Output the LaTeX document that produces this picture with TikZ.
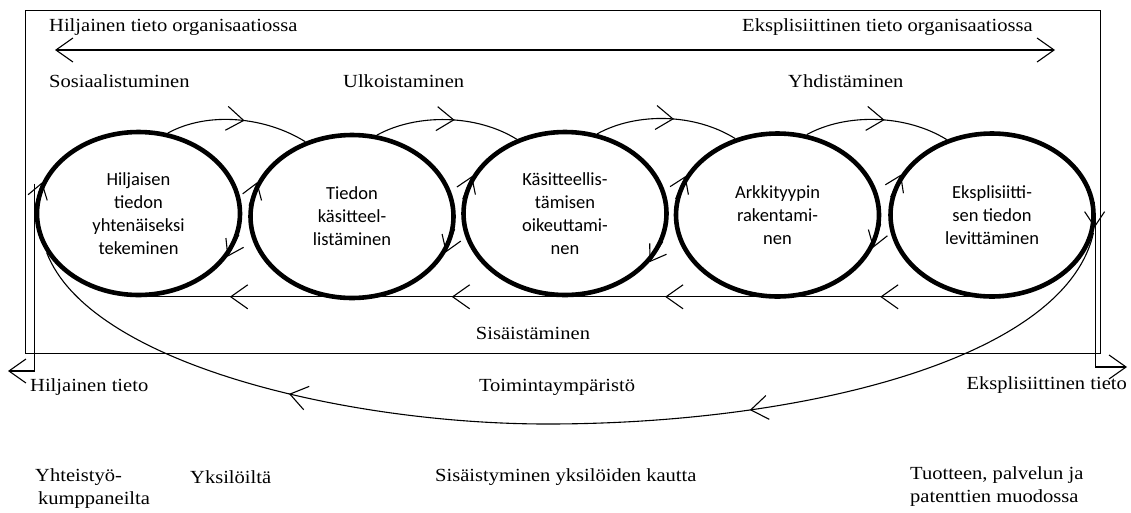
\documentclass[tikz,border=0pt]{standalone}
\usepackage{fontspec}
\setmainfont{Liberation Serif}[FakeStretch=1.11]
\newfontfamily\procfamily{Carlito}
\usetikzlibrary{shapes.geometric,arrows.meta,decorations.markings,calc}
\begin{document}
\begin{tikzpicture}[x=1pt,y=-1pt,
  >={Straight Barb[length=17pt,width=24pt]},
  conn/.style={line width=1.1pt},
  ring/.style={line width=1.1pt,-{Straight Barb[length=15pt,width=20pt]}},
  proc/.style={ellipse, draw, line width=4.6pt, minimum width=203pt, minimum height=163pt,
    inner sep=0pt, align=center, font=\procfamily\fontsize{18.5}{23}\selectfont},
  lbl/.style={inner sep=0pt, font=\fontsize{18.5}{23}\selectfont},
  midarrow/.style={postaction={decorate}, decoration={markings,
    mark=at position #1 with {\arrow{Straight Barb[length=17pt,width=24pt]}}}},
  fourarrows/.style={postaction={decorate}, decoration={markings,
    mark=at position 0.131 with {\arrow{Straight Barb[length=17pt,width=24pt]}},
    mark=at position 0.383 with {\arrow{Straight Barb[length=17pt,width=24pt]}},
    mark=at position 0.633 with {\arrow{Straight Barb[length=17pt,width=24pt]}},
    mark=at position 0.893 with {\arrow{Straight Barb[length=17pt,width=24pt]}}}},
  twoarrows/.style={postaction={decorate}, decoration={markings,
    mark=at position 0.35 with {\arrow{Straight Barb[length=17pt,width=24pt]}},
    mark=at position 0.75 with {\arrow{Straight Barb[length=17pt,width=24pt]}}}},
]
\useasboundingbox (0,0) rectangle (1131,512);

% frame
\node[draw, conn, minimum width=1075pt, minimum height=343pt, inner sep=0pt,
  anchor=north west] (frame) at (25,10) {};

% top labels
\node[lbl, anchor=west] (t1) at (49,27) {Hiljainen tieto organisaatiossa};
\node[lbl, anchor=west] (t2) at (742,27) {Eksplisiittinen tieto organisaatiossa};
\coordinate (tl) at (55,50);
\coordinate (tr) at (1055,50);
\draw[conn,<->] (tl) -- (tr);

\node[lbl, anchor=west] (s1) at (49,81) {Sosiaalistuminen};
\node[lbl, anchor=west] (s2) at (343,81) {Ulkoistaminen};
\node[lbl, anchor=west] (s3) at (788,81) {Yhdistäminen};

% ellipses
\node[proc] (e1) at (138.5,213.5) {Hiljaisen\\tiedon\\yhtenäiseksi\\tekeminen};
\node[proc] (e2) at (352,216.5) {Tiedon\\käsitteel-\\listäminen};
\node[proc] (e3) at (565,213.5) {Käsitteellis-\\tämisen\\oikeuttami-\\nen};
\node[proc] (e4) at (777.5,215) {Arkkityypin\\rakentami-\\nen};
\node[proc] (e5) at (992,215) {Eksplisiitti-\\sen tiedon\\levittäminen};

% arrows along ellipses (clockwise)
\draw[ring] (e1.176) -- (e1.162);
\draw[ring] (e1.348) -- (e1.334);
\draw[ring] (e2.174) -- (e2.160);
\draw[ring] (e2.353) -- (e2.339);
\draw[ring] (e3.172) -- (e3.158);
\draw[ring] (e3.344) -- (e3.330);
\draw[ring] (e4.171) -- (e4.157);
\draw[ring] (e4.355) -- (e4.341);
\draw[ring] (e5.170) -- (e5.156);
\draw[ring] (e5.7) -- (e5.353);

% top arcs between ellipses
\draw[conn, midarrow=0.55] (e1.70) .. controls +(40,-22) and +(-40,-25) .. (e2.122);
\draw[conn, midarrow=0.55] (e2.73) .. controls +(40,-22) and +(-40,-25) .. (e3.123);
\draw[conn, midarrow=0.55] (e3.68) .. controls +(40,-22) and +(-40,-25) .. (e4.119);
\draw[conn, midarrow=0.55] (e4.70) .. controls +(40,-22) and +(-40,-25) .. (e5.121);

% bottom line
\draw[conn, fourarrows] ([yshift=2pt]e5.south) -- ([yshift=2pt]e5.south -| e1.south);
\node[lbl] (s4) at (533,333) {Sisäistäminen};

% L-shaped outputs
\coordinate (hl) at (8,371);
\coordinate (hr) at (1127,367);
\draw[conn,->] ([yshift=30pt]e1.west) |- (hl);
\draw[conn,->] (e5.east) |- (hr);

% environment curve
\coordinate (low) at (547,424);
\draw[conn, twoarrows] (e5.350) .. controls (1065,360) and (800,424) .. (low)
  .. controls (350,424) and (90,365) .. (e1.203);

\node[lbl] (env) at (557,387) {Toimintaympäristö};
\node[lbl, anchor=west] (hq) at (30,387) {Hiljainen tieto};
\node[lbl, anchor=east] (ex) at (1127,385) {Eksplisiittinen tieto};

% bottom texts
\node[lbl, anchor=west, align=left] (b1) at (35,488.5) {Yhteistyö-\\\hspace{3pt}kumppaneilta};
\node[lbl, anchor=west] (b2) at (190,477) {Yksilöiltä};
\node[lbl, anchor=west] (b3) at (435,477) {Sisäistyminen yksilöiden kautta};
\node[lbl, anchor=west, align=left] (b4) at (910,486.5) {Tuotteen, palvelun ja\\patenttien muodossa};
\end{tikzpicture}
\end{document}
